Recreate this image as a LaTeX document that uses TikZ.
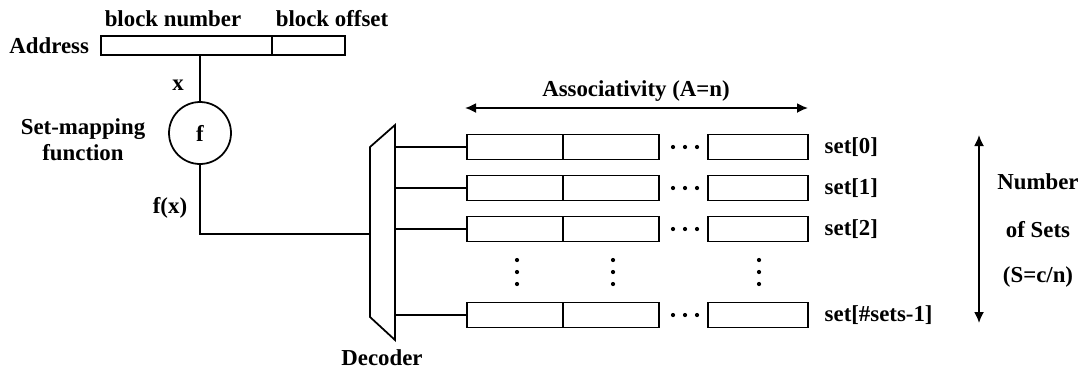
\documentclass[tikz,border=0pt]{standalone}
\usepackage{fontspec}
\setmainfont{Liberation Serif}
\usetikzlibrary{positioning,arrows.meta}

\begin{document}
\begin{tikzpicture}[x=0.02cm, y=-0.02cm, node distance=0,
    font=\fontsize{13}{15}\selectfont\bfseries, line width=1pt,
    >={Latex[length=2.2mm,width=2mm]}]

\def\wayheight{0.5cm};
\def\waywidth{1.92cm};
\tikzset{way/.style={
    rectangle,
    draw,
    inner sep=0,
    outer sep=0,
    minimum width=\waywidth,
    minimum height=\wayheight
}};
\tikzset{field/.style={way, minimum height=0.38cm}};

\useasboundingbox (0,0) rectangle (1084,373);

% address register
\node[field, minimum width=3.42cm] (addr) at (186.5,45.5) {};
\node[field, minimum width=1.46cm, right=of addr] (offset) {};
\node[left=3pt of addr] (addrlbl) {Address};
\node (bnum) at (173,19) {block number};
\node (boff) at (332,19) {block offset};

% set-mapping function
\node[circle, draw, inner sep=0, minimum size=1.24cm] (f) at (200,133) {f};
\node (x) at (178,85) {x};
\node[align=center] (setmap) at (83,140) {Set-mapping\\function};
\node (fx) at (170,208) {f(x)};
\coordinate (decin) at (370,234);

\draw (f |- addr.south) -- (f.north);
\draw (f.south) |- (decin);

% decoder
\coordinate (dec nw) at (370,147);
\coordinate (dec ne) at (395,125);
\coordinate (dec se) at (395,340);
\coordinate (dec sw) at (370,317);
\draw (dec nw) -- (dec ne) -- (dec se) -- (dec sw) -- cycle;
\node (decoder) at (382,358) {Decoder};

% sets
\foreach \y/\lbl [count=\i] in {147/set[0], 188/set[1], 229/set[2], 315/set[\#sets-1]} {
    \node[way] (way\i a) at (515,\y) {};
    \node[way, right=of way\i a] (way\i b) {};
    \node[way, minimum width=2cm] (way\i n) at (758,\y) {};
    \node[anchor=west] (set\i) at (818,\y) {\lbl};
    \coordinate (dec\i) at (395,\y);
    \draw (dec\i) -- (way\i a);
    \foreach \dx in {-12,0,12} {
        \fill (685+\dx,\y) circle (1.2pt);
    }
}

\foreach \x in {517,613,759} {
    \foreach \y in {260,272,284} {
        \fill (\x,\y) circle (1.2pt);
    }
}

% associativity
\coordinate (assoc l) at (465,108);
\coordinate (assoc r) at (808,108);
\draw[<->] (assoc l) -- (assoc r);
\node (assoc) at (636,91) {Associativity (A=n)};

% number of sets
\coordinate (nsets t) at (979,135);
\coordinate (nsets b) at (979,323);
\draw[<->] (nsets t) -- (nsets b);
\node (num) at (1038,182) {Number};
\node (ofsets) at (1038,230) {of Sets};
\node (sdef) at (1038,277) {(S=c/n)};
\end{tikzpicture}
\end{document}
